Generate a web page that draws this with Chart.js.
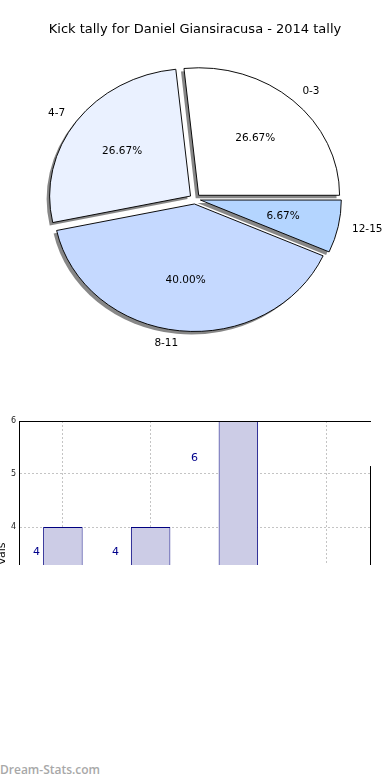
<!DOCTYPE html>
<html>
<head>
<meta charset="utf-8">
<script src="https://cdn.jsdelivr.net/npm/chart.js@4.4.1/dist/chart.umd.min.js"></script>
<style>
  body { margin: 0; background: #fff; width: 390px; height: 780px; position: relative; overflow: hidden; }
  #pieBox { position: absolute; left: 0; top: 0; width: 390px; height: 400px; }
  #barBox { position: absolute; left: 0; top: 400px; width: 390px; height: 165px; overflow: hidden; }
  #barChart { position: absolute; left: -4px; top: 0; }
  #mark { position: absolute; left: 0; top: 761px; font: 600 12px "Open Sans", sans-serif; color: #a8a8a8; }
</style>
</head>
<body>
<div id="pieBox"><canvas id="pieChart" width="390" height="400"></canvas></div>
<div id="barBox"><canvas id="barChart" width="394" height="330"></canvas></div>
<div id="mark">Dream-Stats.com</div>
<script>
const chartTitle = "Kick tally for Daniel Giansiracusa - 2014 tally";
const categories = ["0-3", "4-7", "8-11", "12-15"];
const kickCounts = [4, 4, 6, 1];
const sliceColors = ["#ffffff", "#eaf1ff", "#c5d9ff", "#b4d5ff"];
const barValues = [4, 4, 6, 1];
const yAxisLabel = "vals";

window.addEventListener("DOMContentLoaded", () => {
  Chart.defaults.font.family = "'DejaVu Sans', sans-serif";

  // matplotlib draws counter-clockwise from 3 o'clock, chart.js goes clockwise
  const order = [3, 2, 1, 0];
  const pieLabels = order.map(i => categories[i]);
  const pieValues = order.map(i => kickCounts[i]);
  const pieColors = order.map(i => sliceColors[i]);
  const total = pieValues.reduce((a, b) => a + b, 0);

  const SX = 1.105;    // squash the pie into an ellipse
  const EXPLODE = 5;   // how far each slice is pulled out

  // draw every arc pulled out along its middle angle
  function drawArcs(ctx, arcs, dx, dy, override) {
    arcs.forEach(arc => {
      const mid = (arc.startAngle + arc.endAngle) / 2;
      ctx.save();
      ctx.translate(dx + SX * Math.cos(mid) * EXPLODE, dy + Math.sin(mid) * EXPLODE);
      ctx.translate(arc.x, arc.y);
      ctx.scale(SX, 1);
      ctx.translate(-arc.x, -arc.y);
      const ghost = Object.create(arc);
      ghost.options = Object.assign({}, arc.options, { offset: 0 }, override);
      ghost.draw(ctx);
      ctx.restore();
    });
  }

  const ellipsePlugin = {
    id: "ellipse",
    beforeDatasetsDraw(chart) {
      const ctx = chart.ctx;
      const arcs = chart.getDatasetMeta(0).data;
      drawArcs(ctx, arcs, -3, 3, { backgroundColor: "rgba(0,0,0,0.47)", borderWidth: 0 });
      drawArcs(ctx, arcs, 0, 0, {});
    },
    beforeDatasetDraw() {
      return false;
    },
    afterDraw(chart) {
      const ctx = chart.ctx;
      const arcs = chart.getDatasetMeta(0).data;
      ctx.save();
      ctx.fillStyle = "#000";
      ctx.font = "10.5px 'DejaVu Sans'";
      ctx.textBaseline = "middle";
      arcs.forEach((arc, j) => {
        const mid = (arc.startAngle + arc.endAngle) / 2;
        const c = Math.cos(mid), s = Math.sin(mid);
        const at = k => [arc.x + SX * c * (k * arc.outerRadius + EXPLODE), arc.y + s * (k * arc.outerRadius + EXPLODE)];
        let [px, py] = at(0.6);
        ctx.textAlign = "center";
        ctx.fillText((pieValues[j] / total * 100).toFixed(2) + "%", px, py);
        [px, py] = at(1.1);
        ctx.textAlign = c > 0 ? "left" : "right";
        ctx.fillText(pieLabels[j], px, py);
      });
      ctx.restore();
    }
  };

  new Chart(document.getElementById("pieChart"), {
    type: "pie",
    data: {
      labels: pieLabels,
      datasets: [{
        data: pieValues,
        backgroundColor: pieColors,
        borderColor: "#000",
        borderWidth: 0.9,
        borderJoinStyle: "miter",
        radius: 127.5
      }]
    },
    options: {
      responsive: false,
      animation: false,
      rotation: 90,
      layout: { padding: { bottom: 49.6 } },
      plugins: {
        legend: { display: false },
        tooltip: { enabled: false },
        title: {
          display: true,
          text: chartTitle,
          color: "#000",
          font: { size: 13, weight: "normal" },
          padding: { top: 22, bottom: 10 }
        }
      }
    },
    plugins: [ellipsePlugin]
  });

  const barFrame = {
    id: "barFrame",
    afterDraw(chart) {
      const { ctx, chartArea: a, scales: { x, y } } = chart;
      ctx.save();
      ctx.strokeStyle = "#000";
      ctx.lineWidth = 1;
      ctx.beginPath();
      ctx.moveTo(a.left, a.top + 0.5);
      ctx.lineTo(a.right + 1, a.top + 0.5);
      ctx.moveTo(a.right + 0.5, y.getPixelForValue(5.15));
      ctx.lineTo(a.right + 0.5, a.bottom);
      ctx.stroke();

      ctx.fillStyle = "#00008b";
      ctx.font = "11px 'DejaVu Sans'";
      ctx.textAlign = "center";
      ctx.textBaseline = "middle";
      const step = x.getPixelForValue(1) - x.getPixelForValue(0);
      barValues.forEach((v, i) => {
        ctx.fillText(String(v), x.getPixelForValue(i) - step * (0.3 + 0.1 * i), y.getPixelForValue(v * 0.883));
      });
      ctx.restore();
    }
  };

  new Chart(document.getElementById("barChart"), {
    type: "bar",
    data: {
      labels: categories,
      datasets: [{
        data: barValues,
        backgroundColor: "#ccccE6",
        borderColor: "#000080",
        borderWidth: 1,
        barPercentage: 0.45,
        categoryPercentage: 1
      }]
    },
    options: {
      responsive: false,
      animation: false,
      layout: { padding: { top: 21, right: 20, bottom: 44, left: 0 } },
      plugins: {
        legend: { display: false },
        tooltip: { enabled: false }
      },
      scales: {
        x: {
          offset: true,
          z: 1,
          grid: { offset: false, color: "#c4c4c4", drawTicks: false },
          border: { display: false, dash: [2, 2] },
          ticks: { display: false }
        },
        y: {
          min: 1,
          max: 6,
          z: 1,
          afterFit(scale) { scale.width = 23; },
          ticks: { stepSize: 1, color: "#222", font: { size: 8 }, padding: 3 },
          grid: { color: "#c4c4c4", drawTicks: false },
          border: { color: "#000", width: 1, dash: [2, 2] },
          title: { display: true, text: yAxisLabel, color: "#000", font: { size: 11 }, padding: 0 }
        }
      }
    },
    plugins: [barFrame]
  });
});
</script>
</body>
</html>
